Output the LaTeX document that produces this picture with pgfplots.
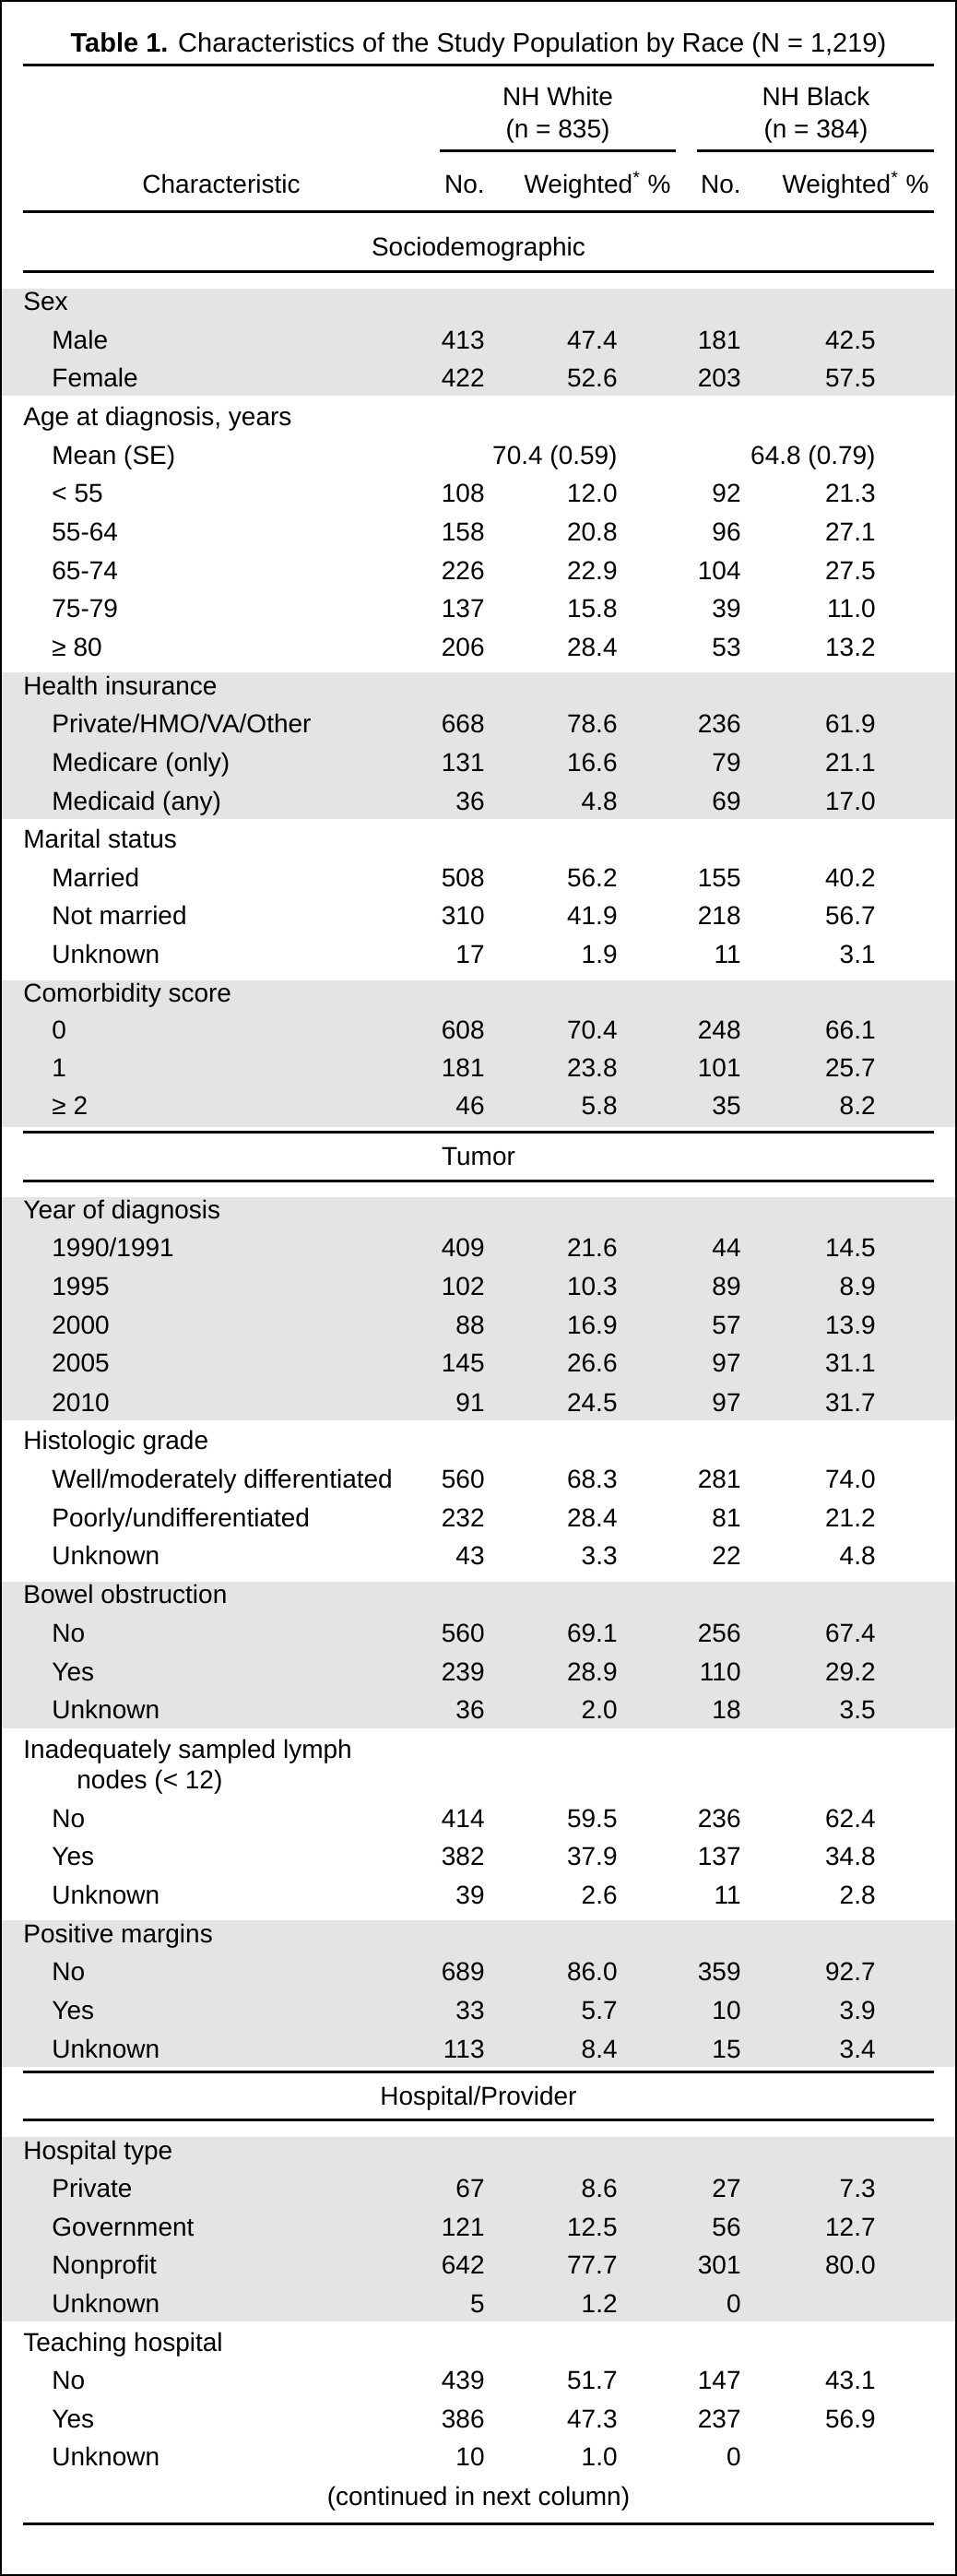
\documentclass[border=0pt]{standalone}
\usepackage{fontspec}
\setmainfont{Liberation Sans}
\usepackage{pgfplots}
\usepackage{pgfplotstable}
\pgfplotsset{compat=1.18}
\definecolor{band}{HTML}{E4E4E4}
\newcommand\tf{\fontsize{14}{16}\selectfont}
\tikzset{rule/.style={line width=1.5pt}}

% y = baseline (px from top), lx = left edge of label
\pgfplotstableread[col sep=semicolon]{
y;lx;label;a;b;c;d
337;25;Sex;;;;
379;56;Male;413;47.4;181;42.5
420;56;Female;422;52.6;203;57.5
462;25;Age at diagnosis, years;;;;
504;56;Mean (SE);;70.4 (0.59);;64.8 (0.79)
545;56;< 55;108;12.0;92;21.3
587;56;55-64;158;20.8;96;27.1
629;56;65-74;226;22.9;104;27.5
670;56;75-79;137;15.8;39;11.0
712;56;≥ 80;206;28.4;53;13.2
754;25;Health insurance;;;;
795;56;Private/HMO/VA/Other;668;78.6;236;61.9
837;56;Medicare (only);131;16.6;79;21.1
879;56;Medicaid (any);36;4.8;69;17.0
920;25;Marital status;;;;
962;56;Married;508;56.2;155;40.2
1003;56;Not married;310;41.9;218;56.7
1045;56;Unknown;17;1.9;11;3.1
1087;25;Comorbidity score;;;;
1127;56;0;608;70.4;248;66.1
1168;56;1;181;23.8;101;25.7
1209;56;≥ 2;46;5.8;35;8.2
1322;25;Year of diagnosis;;;;
1363;56;1990/1991;409;21.6;44;14.5
1405;56;1995;102;10.3;89;8.9
1447;56;2000;88;16.9;57;13.9
1488;56;2005;145;26.6;97;31.1
1531;56;2010;91;24.5;97;31.7
1572;25;Histologic grade;;;;
1614;56;Well/moderately differentiated;560;68.3;281;74.0
1656;56;Poorly/undifferentiated;232;28.4;81;21.2
1697;56;Unknown;43;3.3;22;4.8
1739;25;Bowel obstruction;;;;
1781;56;No;560;69.1;256;67.4
1823;56;Yes;239;28.9;110;29.2
1864;56;Unknown;36;2.0;18;3.5
1907;25;Inadequately sampled lymph;;;;
1940;83;nodes (< 12);;;;
1982;56;No;414;59.5;236;62.4
2023;56;Yes;382;37.9;137;34.8
2065;56;Unknown;39;2.6;11;2.8
2107;25;Positive margins;;;;
2148;56;No;689;86.0;359;92.7
2190;56;Yes;33;5.7;10;3.9
2232;56;Unknown;113;8.4;15;3.4
2342;25;Hospital type;;;;
2383;56;Private;67;8.6;27;7.3
2425;56;Government;121;12.5;56;12.7
2466;56;Nonprofit;642;77.7;301;80.0
2508;56;Unknown;5;1.2;0;
2550;25;Teaching hospital;;;;
2591;56;No;439;51.7;147;43.1
2633;56;Yes;386;47.3;237;56.9
2674;56;Unknown;10;1.0;0;
}\rows

\begin{document}
\begin{tikzpicture}
\begin{axis}[
    scale only axis,
    width=519pt, height=1396.5pt,
    xmin=0, xmax=1038, ymin=0, ymax=2793,
    y dir=reverse,
    hide axis,
    clip=false,
    set layers,
    cell/.style={draw=none, mark=none, nodes near coords, point meta=explicit symbolic,
        every node near coord/.append style={anchor=base east, inner sep=0pt, font=\tf, text=black}},
]
    % shaded groups
    \begin{pgfonlayer}{axis background}
    \fill[band] (axis cs:0,313) rectangle (axis cs:1038,429);
    \fill[band] (axis cs:0,729) rectangle (axis cs:1038,888);
    \fill[band] (axis cs:0,1063) rectangle (axis cs:1038,1222);
    \fill[band] (axis cs:0,1298) rectangle (axis cs:1038,1540);
    \fill[band] (axis cs:0,1715) rectangle (axis cs:1038,1874);
    \fill[band] (axis cs:0,2082) rectangle (axis cs:1038,2241);
    \fill[band] (axis cs:0,2317) rectangle (axis cs:1038,2517);
    \end{pgfonlayer}

    % labels and values
    \addplot[cell, every node near coord/.append style={anchor=base west}]
        table[x=lx, y=y, meta=label] {\rows};
    \addplot[cell] table[x expr=526, y=y, meta=a] {\rows};
    \addplot[cell] table[x expr=670, y=y, meta=b] {\rows};
    \addplot[cell] table[x expr=804, y=y, meta=c] {\rows};
    \addplot[cell] table[x expr=950, y=y, meta=d] {\rows};

    % headers
    \node[anchor=base, inner sep=0pt, font=\fontsize{14.5}{16}\selectfont] at (axis cs:519,57)
        {\textbf{Table 1.} Characteristics of the Study Population by Race (N = 1,219)};
    \node[anchor=base, inner sep=0pt, font=\tf] at (axis cs:605,115) {NH White};
    \node[anchor=base, inner sep=0pt, font=\tf] at (axis cs:605,150) {(n = 835)};
    \node[anchor=base, inner sep=0pt, font=\tf] at (axis cs:885,115) {NH Black};
    \node[anchor=base, inner sep=0pt, font=\tf] at (axis cs:885,150) {(n = 384)};
    \node[anchor=base, inner sep=0pt, font=\tf] at (axis cs:240,210) {Characteristic};
    \node[anchor=base east, inner sep=0pt, font=\tf] at (axis cs:526,210) {No.};
    \node[anchor=base east, inner sep=0pt, font=\tf] at (axis cs:728,210) {Weighted\textsuperscript{*} \%};
    \node[anchor=base east, inner sep=0pt, font=\tf] at (axis cs:804,210) {No.};
    \node[anchor=base east, inner sep=0pt, font=\tf] at (axis cs:1008,210) {Weighted\textsuperscript{*} \%};
    \node[anchor=base, inner sep=0pt, font=\tf] at (axis cs:519,278) {Sociodemographic};
    \node[anchor=base, inner sep=0pt, font=\tf] at (axis cs:519,1264) {Tumor};
    \node[anchor=base, inner sep=0pt, font=\tf] at (axis cs:519,2283) {Hospital/Provider};
    \node[anchor=base, inner sep=0pt, font=\tf] at (axis cs:519,2717) {(continued in next column)};

    % rules
    \draw[rule] (axis cs:25,71) -- (axis cs:1013,71);
    \draw[rule] (axis cs:25,230) -- (axis cs:1013,230);
    \draw[rule] (axis cs:25,295) -- (axis cs:1013,295);
    \draw[rule] (axis cs:25,1228) -- (axis cs:1013,1228);
    \draw[rule] (axis cs:25,1281) -- (axis cs:1013,1281);
    \draw[rule] (axis cs:25,2247) -- (axis cs:1013,2247);
    \draw[rule] (axis cs:25,2299) -- (axis cs:1013,2299);
    \draw[rule] (axis cs:25,2737) -- (axis cs:1013,2737);
    \draw[rule] (axis cs:477,164) -- (axis cs:733,164);
    \draw[rule] (axis cs:756,164) -- (axis cs:1013,164);

    % outer frame
    \draw[line width=1pt] (axis cs:1,1) rectangle (axis cs:1037,2792);
\end{axis}
\end{tikzpicture}
\end{document}
